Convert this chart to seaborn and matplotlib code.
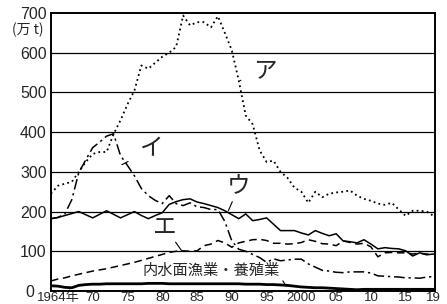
import numpy as np
import pandas as pd
import matplotlib
matplotlib.use("Agg")
import matplotlib.pyplot as plt
import matplotlib.transforms as mtrans
import seaborn as sns

years = list(range(1964, 2020))

# ア (dotted)
offshore = [245, 265, 270, 275, 300, 325, 345, 350, 350, 395,
            430, 470, 505, 568, 560, 575, 590, 600, 615, 694,
            669, 677, 677, 664, 692, 650, 606, 530, 442, 420,
            354, 325, 328, 300, 285, 260, 250, 222, 250, 236,
            245, 248, 250, 253, 240, 232, 227, 220, 217, 222,
            205, 189, 202, 202, 200, 189]
# イ (dash-dot)
distant = [182, 185, 194, 230, 298, 330, 361, 375, 390, 396,
           341, 316, 290, 258, 240, 228, 220, 240, 220, 215,
           222, 212, 210, 205, 205, 175, 126, 105, 100, 92,
           84, 72, 81, 76, 78, 80, 80, 68, 60, 52,
           50, 47, 46, 48, 48, 48, 45, 38, 37, 36,
           35, 33, 33, 32, 35, 36]
# ウ (solid)
coastal = [182, 185, 190, 195, 200, 192, 184, 193, 202, 193,
           184, 192, 200, 190, 182, 190, 197, 218, 225, 230,
           232, 224, 220, 215, 210, 202, 192, 182, 194, 177,
           180, 184, 168, 152, 152, 152, 146, 141, 152, 145,
           139, 144, 126, 124, 121, 129, 118, 106, 109, 107,
           106, 101, 88, 96, 91, 93]
# エ (dashed)
aquaculture = [25, 30, 33, 38, 42, 46, 50, 53, 56, 60,
               64, 68, 72, 77, 82, 87, 92, 97, 100, 101,
               100, 101, 114, 118, 127, 121, 110, 121, 125, 129,
               130, 127, 120, 120, 118, 119, 122, 129, 125, 119,
               118, 114, 126, 122, 118, 120, 111, 86, 96, 97,
               96, 96, 93, 95, 93, 92]
# 内水面漁業・養殖業
inland = [13, 12, 9, 8, 14, 16, 17, 17, 18, 18,
          18, 18, 18, 18, 19, 19, 19, 18, 18, 18,
          18, 18, 18, 18, 18, 18, 18, 18, 17, 17,
          17, 16, 16, 15, 14, 12, 10, 9, 8, 8,
          7, 6, 5, 4, 3, 4, 4, 4, 4, 4,
          4, 4, 4, 4, 4, 4]

tick_years = [1964, 1970, 1975, 1980, 1985, 1990, 1995, 2000, 2005, 2010, 2015, 2019]
tick_labels = ["1964年", "70", "75", "80", "85", "90", "95", "2000", "05", "10", "15", "19"]

sns.set_style("white")
plt.rcParams["font.family"] = ["Liberation Sans", "Noto Sans CJK JP", "DejaVu Sans"]
jp = ["Noto Sans CJK JP", "DejaVu Sans"]

fig = plt.figure(figsize=(4.47, 3.04), dpi=100)
ax = fig.add_axes([0.114, 0.043, 0.859, 0.914])

df = pd.DataFrame({"year": years, "ア": offshore, "イ": distant, "ウ": coastal,
                   "エ": aquaculture, "内水面": inland})

for y in range(100, 700, 100):
    ax.axhline(y, color="black", lw=0.9, zorder=1)

sns.lineplot(data=df, x="year", y="ア", ax=ax, color="black", lw=1.3, zorder=3)
ax.lines[-1].set_dashes((1, 1.8))
sns.lineplot(data=df, x="year", y="イ", ax=ax, color="black", lw=1.1, zorder=3)
ax.lines[-1].set_dashes((7, 2.5, 1.5, 2.5))
sns.lineplot(data=df, x="year", y="ウ", ax=ax, color="black", lw=1.1, zorder=3)
sns.lineplot(data=df, x="year", y="エ", ax=ax, color="black", lw=1.1, zorder=3)
ax.lines[-1].set_dashes((5, 3))
sns.lineplot(data=df, x="year", y="内水面", ax=ax, color="black", lw=2.0, zorder=3)

ax.set_xlim(1964, 2019.2)
ax.set_ylim(0, 700)
ax.set_xlabel("")
ax.set_ylabel("")
ax.set_yticks(range(0, 800, 100))
ax.set_yticklabels([str(v) for v in range(0, 800, 100)], fontsize=11.5)
ax.set_xticks(tick_years)
ax.set_xticklabels(tick_labels, fontsize=9.5)
ax.set_xticks(years, minor=True)
ax.tick_params(axis="x", which="both", direction="in", length=5, width=0.8,
               pad=0.5, color="black")
ax.tick_params(axis="y", length=0, pad=3)
for s in ax.spines.values():
    s.set_color("black")
    s.set_linewidth(1.4)

# the "0" label sits further left in the original, clear of "1964年"
ax.yaxis.get_major_ticks()[0].label1.set_x(-0.032)
first_x = ax.get_xticklabels()[0]
first_x.set_transform(first_x.get_transform() +
                      mtrans.ScaledTranslation(5.5 / 72, 0, fig.dpi_scale_trans))

fig.text(0.062, 0.9, "(万 t)", fontsize=10, ha="center", va="center", family=jp)

ax.annotate("ア", xy=(1991.2, 530), xytext=(1994.8, 552), fontsize=17,
            family=jp, va="center", ha="center",
            arrowprops=dict(arrowstyle="-", color="black", lw=0.8, shrinkA=7, shrinkB=0))
ax.annotate("イ", xy=(1974.2, 318), xytext=(1978.5, 357), fontsize=17,
            family=jp, va="center", ha="center",
            arrowprops=dict(arrowstyle="-", color="black", lw=0.8, shrinkA=7, shrinkB=0))
ax.annotate("ウ", xy=(1989.5, 202), xytext=(1991.0, 262), fontsize=17,
            family=jp, va="center", ha="center",
            arrowprops=dict(arrowstyle="-", color="black", lw=0.8, shrinkA=8, shrinkB=0))
ax.annotate("エ", xy=(1982.8, 101), xytext=(1980.4, 160), fontsize=17,
            family=jp, va="center", ha="center",
            arrowprops=dict(arrowstyle="-", color="black", lw=0.8, shrinkA=8, shrinkB=0))
ax.annotate("内水面漁業・養殖業", xy=(1997.8, 12), xytext=(1987.0, 52), fontsize=11,
            family=jp, va="center", ha="center",
            arrowprops=dict(arrowstyle="-", color="black", lw=0.8, shrinkA=0, shrinkB=0,
                            relpos=(1.0, 0.2)))

fig.savefig("out.png", dpi=100)
